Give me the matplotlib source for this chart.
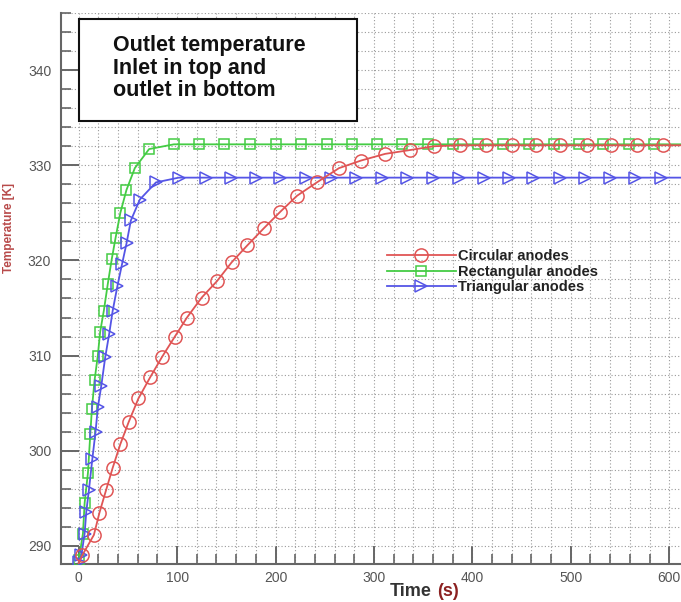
import matplotlib
matplotlib.use("Agg")
import matplotlib.pyplot as plt
from matplotlib.ticker import MultipleLocator
from matplotlib.patches import Rectangle

# values (time in s, temperature in K)
circ_t = [0, 3.5, 15.4, 21.1, 27.9, 34.5, 42.3, 50.7, 60.7, 72.5,
          84.9, 97.7, 110, 125, 140.3, 155.4, 171.5, 188.3, 204.7, 221.9,
          242, 264.5, 287, 311.5, 336.7, 361, 387, 414, 440, 465,
          489, 516, 541, 567, 594, 612]
circ_T = [288.2, 289.0, 291.15, 293.5, 295.9, 298.2, 300.7, 303.0, 305.5, 307.7,
          309.9, 312.0, 314.0, 316.1, 317.8, 319.8, 321.6, 323.4, 325.1, 326.8,
          328.2, 329.7, 330.5, 331.2, 331.6, 332.0, 332.1, 332.1, 332.1, 332.1,
          332.1, 332.1, 332.1, 332.1, 332.1, 332.1]

rect_t = [0, 4.3, 6, 9.4, 11.8, 13.4, 16.1, 19.4, 21.8, 25.5,
          29.5, 33.5, 37.5, 42.3, 48.5, 57, 71.5, 96.7, 122, 148,
          174, 200, 226, 252, 278, 303, 328, 355, 380, 405.5,
          431, 457.5, 482.6, 508, 533, 559, 585, 612]
rect_T = [288.5, 291.3, 294.5, 297.7, 301.8, 304.4, 307.4, 310.0, 312.5, 314.7,
          317.5, 320.1, 322.4, 325.0, 327.4, 329.7, 331.7, 332.2, 332.2, 332.2,
          332.2, 332.2, 332.2, 332.2, 332.2, 332.2, 332.2, 332.2, 332.2, 332.2,
          332.2, 332.2, 332.2, 332.2, 332.2, 332.2, 332.2, 332.2]

tri_t = [0, 2.7, 6, 7.7, 10.4, 13.8, 17.1, 19.5, 22.9, 26.9,
         31, 34.5, 39.3, 44, 48.6, 53, 62.1, 78.5, 101.7, 129,
         155, 180, 205, 231, 256, 282, 308, 334, 360, 386,
         412, 437, 462, 489, 514.5, 539.7, 565.6, 592, 612]
tri_T = [288.3, 289.0, 291.3, 293.6, 295.9, 299.1, 302.0, 304.6, 306.8, 309.8,
         312.3, 314.7, 317.3, 319.6, 321.8, 324.2, 326.4, 328.2, 328.7, 328.7,
         328.7, 328.7, 328.7, 328.7, 328.7, 328.7, 328.7, 328.7, 328.7, 328.7,
         328.7, 328.7, 328.7, 328.7, 328.7, 328.7, 328.7, 328.7, 328.7]

labels = ["Circular anodes", "Rectangular anodes", "Triangular anodes"]
box_lines = ["Outlet temperature", "Inlet in top and", "outlet in bottom"]

plt.rcParams['font.family'] = ['Liberation Sans', 'DejaVu Sans']

W, H = 681, 602
fig = plt.figure(figsize=(W / 100, H / 100), dpi=100)
ax = fig.add_axes([61 / W, 38 / H, 620 / W, 551 / H])

red = '#e05555'
green = '#44cc44'
blue = '#5555e6'

l2, = ax.plot(rect_t, rect_T, color=green, lw=1.3, marker='s', ms=7, mfc='none',
              mec=green, mew=1.1, markevery=slice(0, -1), zorder=3)
l3, = ax.plot(tri_t, tri_T, color=blue, lw=1.3, marker='>', ms=8, mfc='none',
              mec=blue, mew=1.1, markevery=slice(0, -1), zorder=4)
l1, = ax.plot(circ_t, circ_T, color=red, lw=1.3, marker='o', ms=9.5, mfc='none',
              mec=red, mew=1.1, markevery=slice(1, -1), zorder=5)

ax.set_xlim(-18, 612)
ax.set_ylim(288.1, 346)
ax.xaxis.set_major_locator(MultipleLocator(100))
ax.xaxis.set_minor_locator(MultipleLocator(20))
ax.yaxis.set_major_locator(MultipleLocator(10))
ax.yaxis.set_minor_locator(MultipleLocator(2))
ax.tick_params(which='major', direction='in', length=13, width=1.4, color='#666666',
               labelsize=10, labelcolor='#555555')
ax.tick_params(which='minor', direction='in', length=7, width=1.2, color='#666666')
ax.tick_params(axis='y', pad=7)
ax.tick_params(axis='x', pad=5)
ax.grid(which='both', linestyle=(0, (1, 2)), color='#9a9a9a', linewidth=0.8)
ax.set_axisbelow(True)
for s in ['top', 'right']:
    ax.spines[s].set_visible(False)
for s in ['left', 'bottom']:
    ax.spines[s].set_color('#666666')
    ax.spines[s].set_linewidth(1.5)

# y label and x label
fig.text(9 / W, 1 - 228 / H, "Temperature [K]", rotation=90, ha='center', va='center',
         fontsize=8.5, fontweight='bold', color='#b84a4a')
fig.text(390 / W, 1 - 592 / H, "Time", ha='left', va='center', fontsize=13,
         fontweight='bold', color='#333333')
fig.text(437 / W, 1 - 592 / H, "(s)", ha='left', va='center', fontsize=13,
         fontweight='bold', color='#8b2020')

# annotation box
box = Rectangle((79 / W, 1 - 121 / H), 278 / W, 102 / H, transform=fig.transFigure,
                facecolor='white', edgecolor='#111111', lw=1.5, zorder=10)
fig.patches.append(box)
for line, yb in zip(box_lines, [51, 74, 96]):
    fig.text(113 / W, 1 - yb / H, line, ha='left', va='baseline', fontsize=15.5,
             fontweight='bold', color='#111111', zorder=11)

leg = ax.legend([l1, l2, l3], labels, loc='upper left',
                bbox_to_anchor=(387 / W, 1 - 249 / H), bbox_transform=fig.transFigure,
                frameon=False, borderpad=0, borderaxespad=0, handlelength=4.7,
                handletextpad=0.2, labelspacing=0.12, numpoints=1,
                prop={'weight': 'bold', 'size': 10.5})
for t in leg.get_texts():
    t.set_color('#222222')

fig.savefig('out.png', dpi=100)
